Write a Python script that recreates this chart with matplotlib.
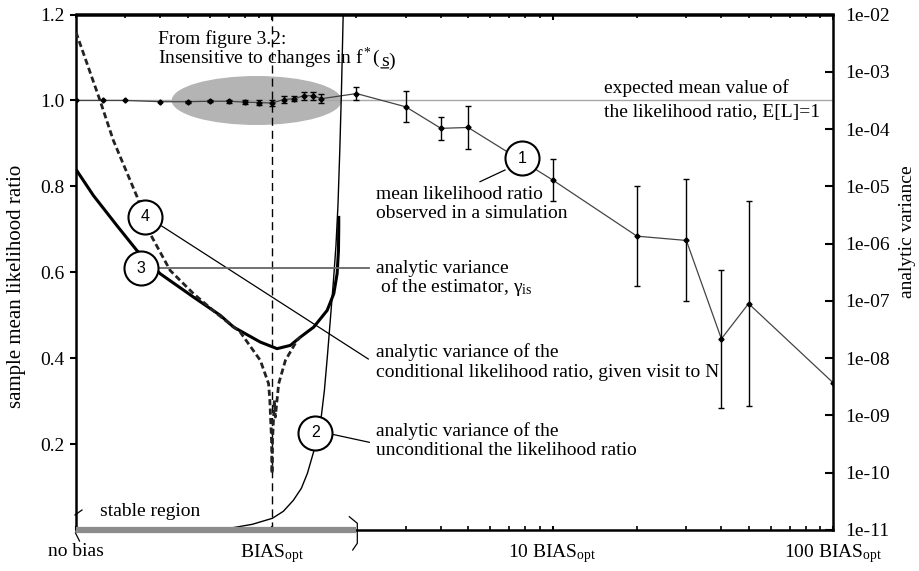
import numpy as np
import matplotlib
matplotlib.use('Agg')
import matplotlib.pyplot as plt
from matplotlib.patches import Ellipse
from matplotlib.lines import Line2D
from matplotlib.ticker import FixedLocator, LogLocator, NullFormatter, FuncFormatter

plt.rcParams['font.family'] = ['Liberation Serif', 'DejaVu Serif']
plt.rcParams['mathtext.fontset'] = 'custom'
plt.rcParams['mathtext.rm'] = 'Liberation Serif'
plt.rcParams['mathtext.it'] = 'Liberation Serif:italic'

W, H = 920, 571
FS = 14

# curve 1: mean likelihood ratio observed in a simulation (x in units of BIAS_opt)
bias = [0.2, 0.25, 0.3, 0.4, 0.5, 0.6, 0.7, 0.8, 0.9, 1.0, 1.1, 1.2, 1.3, 1.4, 1.5,
        2, 3, 4, 5, 10, 20, 30, 40, 50, 100]
mean_lr = [1.0, 1.0, 1.0, 0.997, 0.997, 0.998, 0.998, 0.996, 0.995, 0.994, 1.002, 1.004,
           1.011, 1.011, 1.004, 1.016, 0.985, 0.935, 0.937, 0.815, 0.684, 0.674, 0.445,
           0.527, 0.343]
mean_err = [0, 0, 0, 0, 0.002, 0.002, 0.003, 0.004, 0.006, 0.007, 0.008, 0.006,
            0.009, 0.009, 0.011, 0.016, 0.036, 0.027, 0.051, 0.048, 0.117, 0.142, 0.16,
            0.238, 0]

# curve 2: analytic variance of the unconditional likelihood ratio (log10)
unc_bias = [0.648, 0.721, 0.85, 1.0025, 1.097, 1.191, 1.272, 1.337, 1.405, 1.451, 1.5,
            1.537, 1.576, 1.615, 1.656, 1.69, 1.718, 1.744, 1.768, 1.793, 1.801]
unc_log10 = [-10.997, -10.962, -10.901, -10.796, -10.674, -10.482, -10.272, -10.01,
             -9.644, -9.382, -8.998, -8.562, -7.951, -7.305, -6.642, -6.031, -5.333,
             -4.373, -3.326, -2.017, -1.9]

# curve 3: analytic variance of the estimator, gamma_is (log10)
est_bias = [0.2, 0.2306, 0.2795, 0.3296, 0.399, 0.5248, 0.654, 0.729, 0.908, 1.042,
            1.162, 1.262, 1.408, 1.572, 1.66, 1.706, 1.725, 1.729, 1.729]
est_log10 = [-4.705, -5.159, -5.682, -6.119, -6.525, -6.934, -7.253, -7.457, -7.719,
             -7.834, -7.777, -7.632, -7.457, -7.166, -6.874, -6.525, -6.119, -5.712,
             -5.543]

# curve 4: analytic variance of the conditional likelihood ratio (log10)
cond_bias = [0.2, 0.2436, 0.2718, 0.3296, 0.3675, 0.4332, 0.5248, 0.636, 0.77, 0.908,
             0.972, 0.982, 0.9959, 1.0, 1.0041, 1.019, 1.0275, 1.056, 1.116, 1.228, 1.262]
cond_log10 = [-2.309, -3.501, -4.199, -5.173, -5.827, -6.468, -6.874, -7.223, -7.545,
              -8.038, -8.445, -8.736, -9.435, -10.016, -9.435, -8.736, -9.028, -8.445,
              -8.038, -7.689, -7.632]

x_ticks = [0.2, 1, 10, 100]
x_labels = ['no bias', 'BIAS$_{\\rm opt}$', '10 BIAS$_{\\rm opt}$', '100 BIAS$_{\\rm opt}$']
x_minor_bottom = [3, 4, 5, 6, 7, 8, 9, 20, 30, 40, 50, 60, 70, 80, 90]
y_ticks = [0.2, 0.4, 0.6, 0.8, 1.0, 1.2]


def fx(px):
    return px / W


def fy(py):
    return 1 - py / H


fig = plt.figure(figsize=(W / 100, H / 100), dpi=100)
ax = fig.add_axes([fx(76), fy(530), (833 - 76) / W, (530 - 14.5) / H])
ax.set_xscale('log')
ax.set_xlim(0.2, 100)
ax.set_ylim(0, 1.2)

# gray ellipse from figure 3.2
ax.add_patch(Ellipse((fx(256.7), fy(100.5)), 170 / W, 49 / H, transform=fig.transFigure,
                     facecolor='#b4b4b4', edgecolor='none', zorder=1))

ax.axhline(1.0, color='#a8a8a8', lw=1, zorder=2)
ax.axvline(1.0, color='black', lw=1, dashes=(5.8, 3.6), zorder=2)

x = np.array(bias)
y = np.array(mean_lr)
e = np.array(mean_err)
m = e > 0
ax.plot(x, y, color='#444444', lw=0.9, marker='D', ms=2.6, mfc='black', mec='black', zorder=3)
ax.errorbar(x[m], y[m], yerr=e[m], fmt='none', ecolor='black', elinewidth=1,
            capsize=2.5, capthick=1, zorder=3)

ax.set_yticks(y_ticks)
ax.set_yticklabels([f'{v:.1f}' for v in y_ticks], fontsize=FS)
ax.tick_params(axis='y', direction='out', length=4, width=1.5, pad=4, right=False)

# bottom axis: ticks only right of the break
ax.xaxis.set_major_locator(FixedLocator(x_ticks))
ax.set_xticklabels(x_labels, fontsize=FS)
ax.xaxis.set_minor_locator(FixedLocator(x_minor_bottom))
ax.xaxis.set_minor_formatter(NullFormatter())
ax.tick_params(axis='x', which='major', direction='in', length=3, width=1.5, top=False, pad=9)
ax.tick_params(axis='x', which='minor', direction='in', length=3, width=1.2, top=False)

# top axis: full log ticks
top = ax.secondary_xaxis('top')
top.xaxis.set_major_locator(FixedLocator([1, 10, 100]))
top.xaxis.set_major_formatter(NullFormatter())
top.xaxis.set_minor_locator(LogLocator(base=10, subs=np.arange(2, 10)))
top.xaxis.set_minor_formatter(NullFormatter())
top.tick_params(axis='x', which='major', direction='in', length=4, width=1.5)
top.tick_params(axis='x', which='minor', direction='in', length=3, width=1.2)
top.spines['top'].set_linewidth(1.8)

for s in ['top', 'left', 'bottom']:
    ax.spines[s].set_linewidth(1.8)
ax.spines['right'].set_visible(False)
ax.spines['bottom'].set_bounds(2, 100)

# right axis: analytic variance
ax2 = ax.twinx()
ax2.set_yscale('log')
ax2.set_ylim(1e-11, 1e-2)
for s in ['top', 'left', 'bottom']:
    ax2.spines[s].set_visible(False)
ax2.spines['right'].set_linewidth(1.8)
ax2.yaxis.set_major_locator(FixedLocator([10.0 ** k for k in range(-11, -1)]))
ax2.yaxis.set_major_formatter(FuncFormatter(lambda v, p: f'1e-{-int(round(np.log10(v))):02d}'))
ax2.yaxis.set_minor_locator(LogLocator(base=10, subs=(1.4, 2, 5, 7)))
ax2.yaxis.set_minor_formatter(NullFormatter())
ax2.tick_params(axis='y', which='major', direction='in', length=6, width=1.5, pad=9,
                labelsize=FS)
ax2.tick_params(axis='y', which='minor', direction='in', length=5, width=1.2)

ax2.plot(unc_bias, 10.0 ** np.array(unc_log10), color='black', lw=1, zorder=3)
ax2.plot(est_bias, 10.0 ** np.array(est_log10), color='black', lw=2.2, zorder=3)
ax2.plot(cond_bias, 10.0 ** np.array(cond_log10), color='#222222', lw=2, dashes=(2.2, 1.2),
         zorder=3)

# stable region bar
ax2.plot([0.2, 2], [1e-11, 1e-11], color='#8c8c8c', lw=4.5, solid_capstyle='butt',
         clip_on=False, zorder=5)


def fig_line(pts, **kw):
    fig.add_artist(Line2D([fx(p[0]) for p in pts], [fy(p[1]) for p in pts],
                          transform=fig.transFigure, **kw))


fig_line([(75, 515), (82, 510)], color='black', lw=0.9)
fig_line([(75.5, 533), (79.5, 541)], color='black', lw=0.9)
fig_line([(349.3, 516.7), (357.3, 523.3), (357.3, 543.3), (352.7, 550)], color='black', lw=0.9)

# leader lines
fig_line([(505, 170), (480, 181.7)], color='black', lw=0.9, zorder=5)
fig_line([(161.7, 226), (368.3, 359)], color='black', lw=0.9, zorder=5)
fig_line([(158.3, 267.7), (369.3, 267.7)], color='#666666', lw=1.3, zorder=5)
fig_line([(332.3, 434.3), (369.3, 442.3)], color='black', lw=0.9, zorder=5)

# numbered circles
for num, cx, cy in [('1', 521.7, 158.3), ('4', 145, 216.7), ('3', 140.8, 268.3),
                    ('2', 315.3, 432.5)]:
    fig_line([(cx, cy)], marker='o', ms=24.5, mfc='white', mec='black', mew=1.5,
             linestyle='none', zorder=6)
    fig.text(fx(cx), fy(cy), num, ha='center', va='center', fontsize=11.5,
             family='Liberation Sans', zorder=7)

texts = [
    (604, 93.3, 'expected mean value of'),
    (604, 117.3, 'the likelihood ratio, E[L]=1'),
    (376, 199.3, 'mean likelihood ratio'),
    (376, 218.3, 'observed in a simulation'),
    (376, 272.7, 'analytic variance'),
    (376, 291.7, ' of the estimator, γ$_{\\rm is}$'),
    (376, 357.3, 'analytic variance of the'),
    (376, 376.7, 'conditional likelihood ratio, given visit to N'),
    (376, 435.7, 'analytic variance of the'),
    (376, 455, 'unconditional the likelihood ratio'),
    (100, 516, 'stable region'),
    (158, 43.8, 'From figure 3.2:'),
]
for px, py, s in texts:
    fig.text(fx(px), fy(py), s, ha='left', va='baseline', fontsize=FS, zorder=7)

t1 = fig.text(fx(158), fy(63.3), 'Insensitive to changes in f$^*$(', ha='left',
              va='baseline', fontsize=FS, zorder=7)
t2 = ax.annotate('s', xy=(1, 0), xycoords=t1, ha='left', va='bottom', fontsize=FS)
ax.annotate(')', xy=(1, 0), xycoords=t2, ha='left', va='bottom', fontsize=FS)
ax.annotate('', xy=(1, 0.14), xycoords=t2, xytext=(0, 0.14), textcoords=t2,
            arrowprops=dict(arrowstyle='-', lw=0.9, shrinkA=0, shrinkB=0, color='black'))

fig.text(fx(17), fy(286.5), 'sample mean likelihood ratio', rotation=90, ha='center',
         va='center', fontsize=15)
fig.text(fx(908), fy(232), 'analytic variance', rotation=90, ha='center', va='center',
         fontsize=14)

fig.savefig('out.png', dpi=100)
